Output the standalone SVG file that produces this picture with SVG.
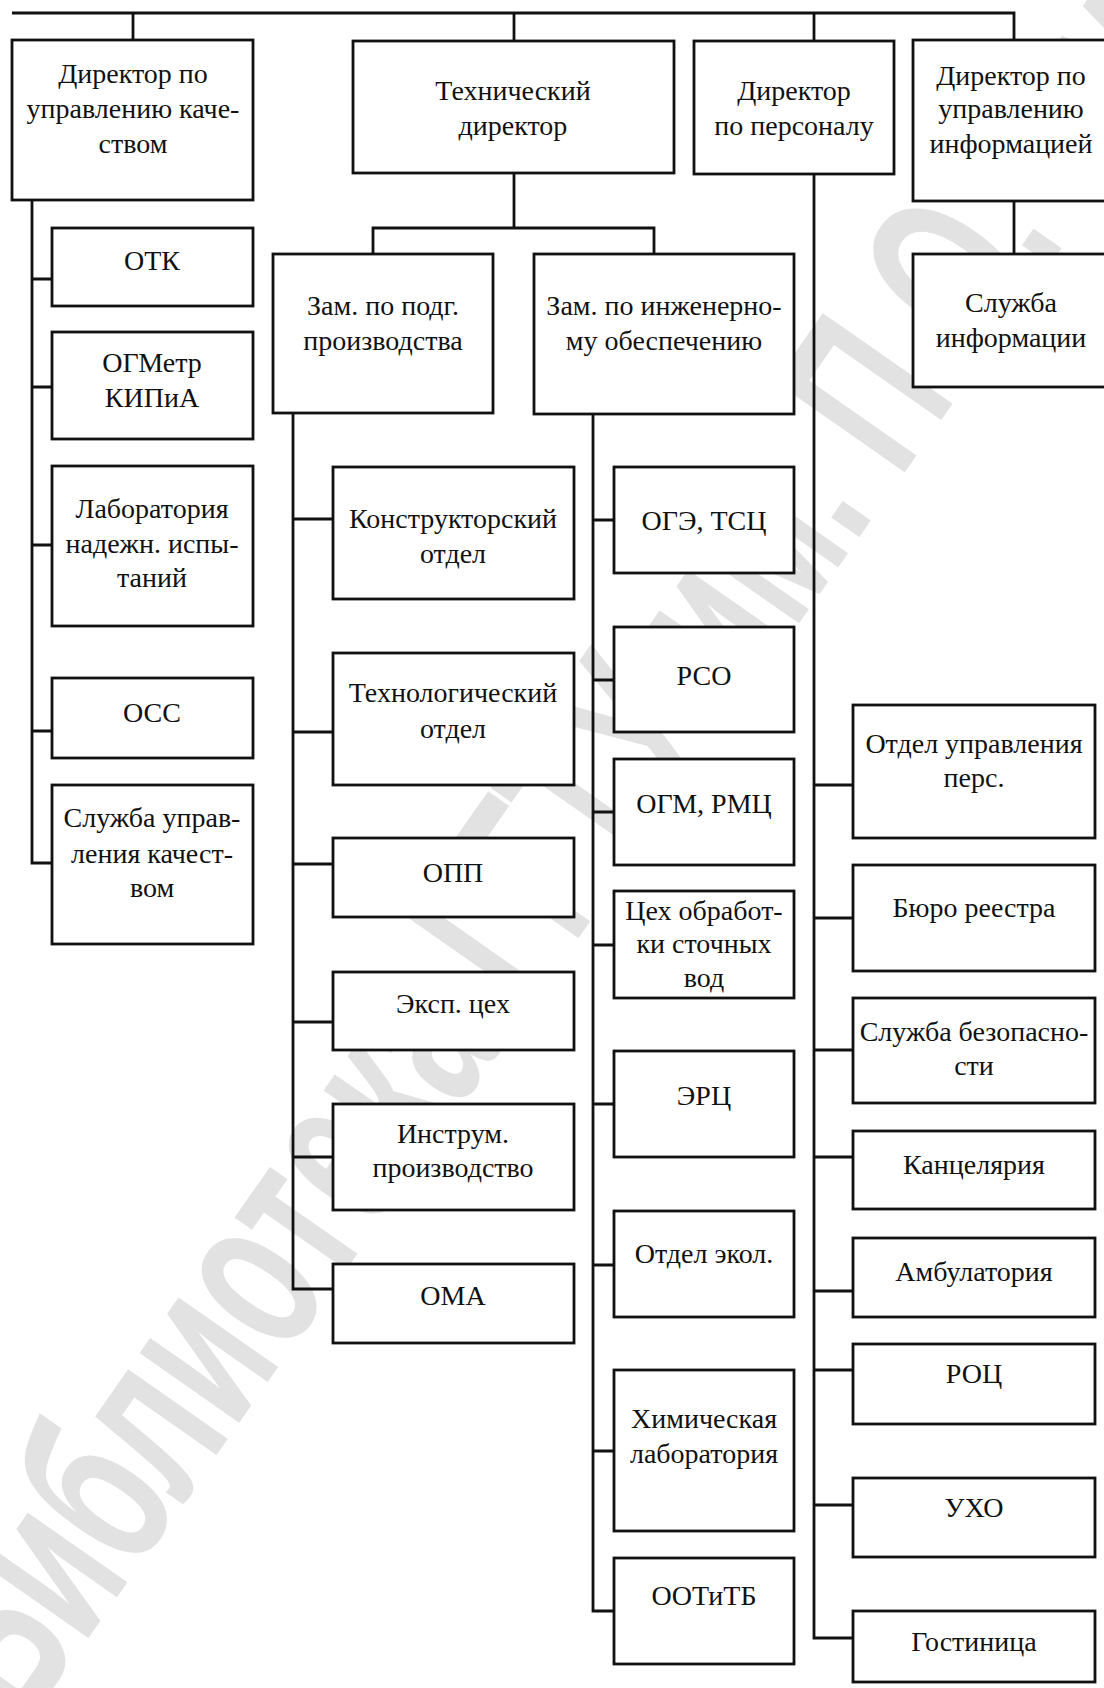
<svg xmlns="http://www.w3.org/2000/svg" width="1104" height="1688" viewBox="0 0 1104 1688">
<style>
.bg{fill:#ffffff}
.wm{fill:#e2e2e2;font-family:"Liberation Sans","DejaVu Sans",sans-serif;font-weight:bold}
.box{fill:#ffffff;stroke:#111111;stroke-width:2.8}
.con{fill:none;stroke:#111111;stroke-width:2.8;stroke-linejoin:miter}
.t{fill:#111111;font-family:"Liberation Serif","Times New Roman",serif;font-size:28px;text-anchor:middle}
</style>
<rect class="bg" x="0" y="0" width="1104" height="1688"/>
<g id="watermark">
<text class="wm" x="0" y="0" font-size="230" textLength="2350" lengthAdjust="spacingAndGlyphs" transform="translate(24,1730) rotate(-55)">Библиотека ГГТУ им. П.О. Сухого</text>
</g>
<g id="connectors">
<path class="con" d="M12,13 H1014 V40"/>
<path class="con" d="M133,13 V40"/>
<path class="con" d="M514,13 V41"/>
<path class="con" d="M814,13 V41"/>
<path class="con" d="M514,173 V228"/>
<path class="con" d="M373,254 V228 H654 V254"/>
<path class="con" d="M1014,201 V254"/>
<path class="con" d="M32,200 V863 H52"/>
<path class="con" d="M32,279 H52 M32,387 H52 M32,545 H52 M32,731 H52"/>
<path class="con" d="M293,413 V1289 H333"/>
<path class="con" d="M293,519 H333 M293,732 H333 M293,864 H333 M293,1022 H333 M293,1157 H333"/>
<path class="con" d="M593,414 V1611 H614"/>
<path class="con" d="M593,520 H614 M593,680 H614 M593,812 H614 M593,945 H614 M593,1104 H614 M593,1265 H614 M593,1451 H614"/>
<path class="con" d="M814,174 V1638 H853"/>
<path class="con" d="M814,785 H853 M814,918 H853 M814,1050 H853 M814,1157 H853 M814,1291 H853 M814,1370 H853 M814,1505 H853"/>
</g>
<g id="dir-quality"><rect class="box" x="12" y="40" width="241" height="160"/><text class="t" x="133" y="83">Директор по</text><text class="t" x="133" y="118">управлению каче-</text><text class="t" x="133" y="153">ством</text></g>
<g id="dir-tech"><rect class="box" x="353" y="41" width="321" height="132"/><text class="t" x="513" y="100">Технический</text><text class="t" x="513" y="135">директор</text></g>
<g id="dir-personnel"><rect class="box" x="694" y="41" width="200" height="133"/><text class="t" x="794" y="100">Директор</text><text class="t" x="794" y="135">по персоналу</text></g>
<g id="dir-info"><rect class="box" x="913" y="40" width="200" height="161"/><text class="t" x="1011" y="85">Директор по</text><text class="t" x="1011" y="118">управлению</text><text class="t" x="1011" y="153">информацией</text></g>
<g id="info-service"><rect class="box" x="913" y="254" width="200" height="133"/><text class="t" x="1011" y="312">Служба</text><text class="t" x="1011" y="347">информации</text></g>
<g id="dep-prep"><rect class="box" x="273" y="254" width="220" height="159"/><text class="t" x="383" y="315">Зам. по подг.</text><text class="t" x="383" y="350">производства</text></g>
<g id="dep-eng"><rect class="box" x="534" y="254" width="260" height="160"/><text class="t" x="664" y="315">Зам. по инженерно-</text><text class="t" x="664" y="350">му обеспечению</text></g>
<g id="otk"><rect class="box" x="52" y="228" width="201" height="78"/><text class="t" x="152" y="270">ОТК</text></g>
<g id="ogmetr"><rect class="box" x="52" y="332" width="201" height="107"/><text class="t" x="152" y="372">ОГМетр</text><text class="t" x="152" y="407">КИПиА</text></g>
<g id="lab-rel"><rect class="box" x="52" y="466" width="201" height="160"/><text class="t" x="152" y="518">Лаборатория</text><text class="t" x="152" y="553">надежн. испы-</text><text class="t" x="152" y="587">таний</text></g>
<g id="oss"><rect class="box" x="52" y="678" width="201" height="80"/><text class="t" x="152" y="722">ОСС</text></g>
<g id="qms"><rect class="box" x="52" y="785" width="201" height="159"/><text class="t" x="152" y="827">Служба управ-</text><text class="t" x="152" y="863">ления качест-</text><text class="t" x="152" y="897">вом</text></g>
<g id="design"><rect class="box" x="333" y="467" width="241" height="132"/><text class="t" x="453" y="528">Конструкторский</text><text class="t" x="453" y="563">отдел</text></g>
<g id="techdept"><rect class="box" x="333" y="653" width="241" height="132"/><text class="t" x="453" y="702">Технологический</text><text class="t" x="453" y="738">отдел</text></g>
<g id="opp"><rect class="box" x="333" y="838" width="241" height="79"/><text class="t" x="453" y="882">ОПП</text></g>
<g id="exp"><rect class="box" x="333" y="972" width="241" height="78"/><text class="t" x="453" y="1013">Эксп. цех</text></g>
<g id="tool"><rect class="box" x="333" y="1104" width="241" height="106"/><text class="t" x="453" y="1143">Инструм.</text><text class="t" x="453" y="1177">производство</text></g>
<g id="oma"><rect class="box" x="333" y="1264" width="241" height="79"/><text class="t" x="453" y="1305">ОМА</text></g>
<g id="oge"><rect class="box" x="614" y="467" width="180" height="106"/><text class="t" x="704" y="530">ОГЭ, ТСЦ</text></g>
<g id="rso"><rect class="box" x="614" y="627" width="180" height="105"/><text class="t" x="704" y="685">РСО</text></g>
<g id="ogm"><rect class="box" x="614" y="759" width="180" height="106"/><text class="t" x="704" y="813">ОГМ, РМЦ</text></g>
<g id="waste"><rect class="box" x="614" y="891" width="180" height="107"/><text class="t" x="704" y="920">Цех обработ-</text><text class="t" x="704" y="953">ки сточных</text><text class="t" x="704" y="987">вод</text></g>
<g id="erc"><rect class="box" x="614" y="1051" width="180" height="106"/><text class="t" x="704" y="1105">ЭРЦ</text></g>
<g id="eco"><rect class="box" x="614" y="1211" width="180" height="106"/><text class="t" x="704" y="1263">Отдел экол.</text></g>
<g id="chem"><rect class="box" x="614" y="1370" width="180" height="161"/><text class="t" x="704" y="1428">Химическая</text><text class="t" x="704" y="1463">лаборатория</text></g>
<g id="ootitb"><rect class="box" x="614" y="1558" width="180" height="106"/><text class="t" x="704" y="1605">ООТиТБ</text></g>
<g id="hr"><rect class="box" x="853" y="705" width="242" height="133"/><text class="t" x="974" y="753">Отдел управления</text><text class="t" x="974" y="787">перс.</text></g>
<g id="registry"><rect class="box" x="853" y="865" width="242" height="106"/><text class="t" x="974" y="917">Бюро реестра</text></g>
<g id="security"><rect class="box" x="853" y="998" width="242" height="105"/><text class="t" x="974" y="1041">Служба безопасно-</text><text class="t" x="974" y="1075">сти</text></g>
<g id="office"><rect class="box" x="853" y="1131" width="242" height="78"/><text class="t" x="974" y="1174">Канцелярия</text></g>
<g id="clinic"><rect class="box" x="853" y="1238" width="242" height="79"/><text class="t" x="974" y="1281">Амбулатория</text></g>
<g id="roc"><rect class="box" x="853" y="1344" width="242" height="80"/><text class="t" x="974" y="1383">РОЦ</text></g>
<g id="uho"><rect class="box" x="853" y="1478" width="242" height="79"/><text class="t" x="974" y="1517">УХО</text></g>
<g id="hotel"><rect class="box" x="853" y="1611" width="242" height="71"/><text class="t" x="974" y="1651">Гостиница</text></g>
</svg>
